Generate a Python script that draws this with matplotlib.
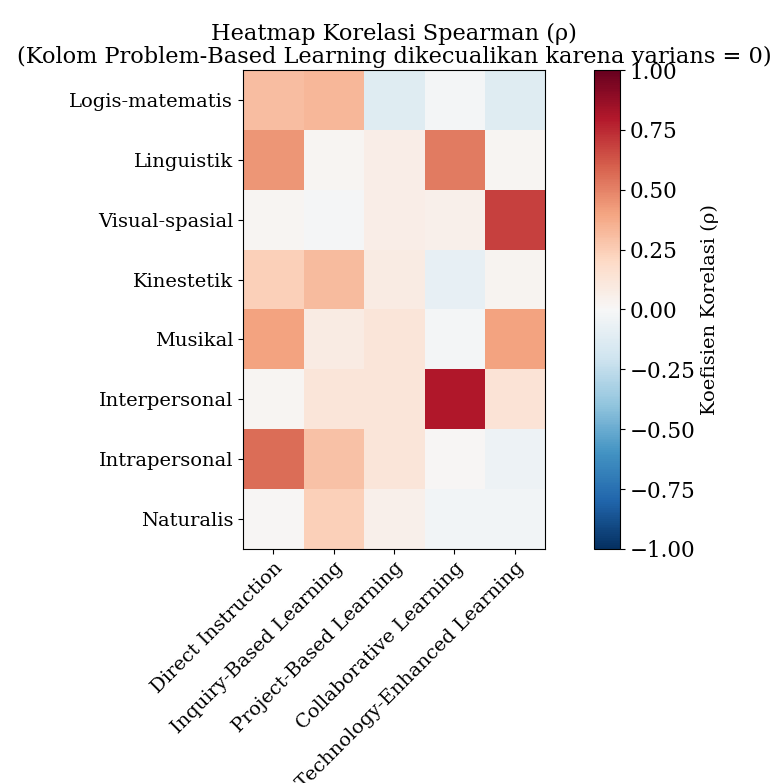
import numpy as np
import matplotlib as mpl
import matplotlib.pyplot as plt

mpl.rcParams['font.family'] = 'DejaVu Serif'

rows = ['Logis-matematis', 'Linguistik', 'Visual-spasial', 'Kinestetik',
        'Musikal', 'Interpersonal', 'Intrapersonal', 'Naturalis']
cols = ['Direct Instruction', 'Inquiry-Based Learning', 'Project-Based Learning',
        'Collaborative Learning', 'Technology-Enhanced Learning']

logis = [0.31, 0.33, -0.12, -0.02, -0.12]
linguistik = [0.44, 0.02, 0.07, 0.52, 0.02]
visual = [0.02, -0.01, 0.07, 0.05, 0.68]
kinestetik = [0.24, 0.32, 0.08, -0.08, 0.03]
musikal = [0.40, 0.08, 0.12, -0.02, 0.40]
interpersonal = [0.02, 0.12, 0.12, 0.80, 0.14]
intrapersonal = [0.56, 0.29, 0.12, 0.01, -0.05]
naturalis = [0.01, 0.24, 0.05, -0.03, -0.03]

rho = np.array([logis, linguistik, visual, kinestetik,
                musikal, interpersonal, intrapersonal, naturalis])

fig = plt.figure(figsize=(7.75, 7.83), dpi=100)
ax = fig.add_axes([0.3135, 0.2989, 0.3897, 0.6117])
cax = fig.add_axes([0.7665, 0.2989, 0.0335, 0.6117])

im = ax.imshow(rho, cmap='RdBu_r', vmin=-1, vmax=1, aspect='auto')
ax.set_xticks(range(len(cols)))
ax.set_xticklabels(cols, rotation=45, ha='right', rotation_mode='anchor', fontsize=14)
ax.set_yticks(range(len(rows)))
ax.set_yticklabels(rows, fontsize=14)
ax.set_title('Heatmap Korelasi Spearman (ρ)\n'
             '(Kolom Problem-Based Learning dikecualikan karena varians = 0)',
             fontsize=16.2, linespacing=1.05, pad=5)

cb = fig.colorbar(im, cax=cax)
cb.set_label('Koefisien Korelasi (ρ)', fontsize=14)
cb.ax.tick_params(labelsize=15.5)

fig.savefig('out.png', dpi=100)
